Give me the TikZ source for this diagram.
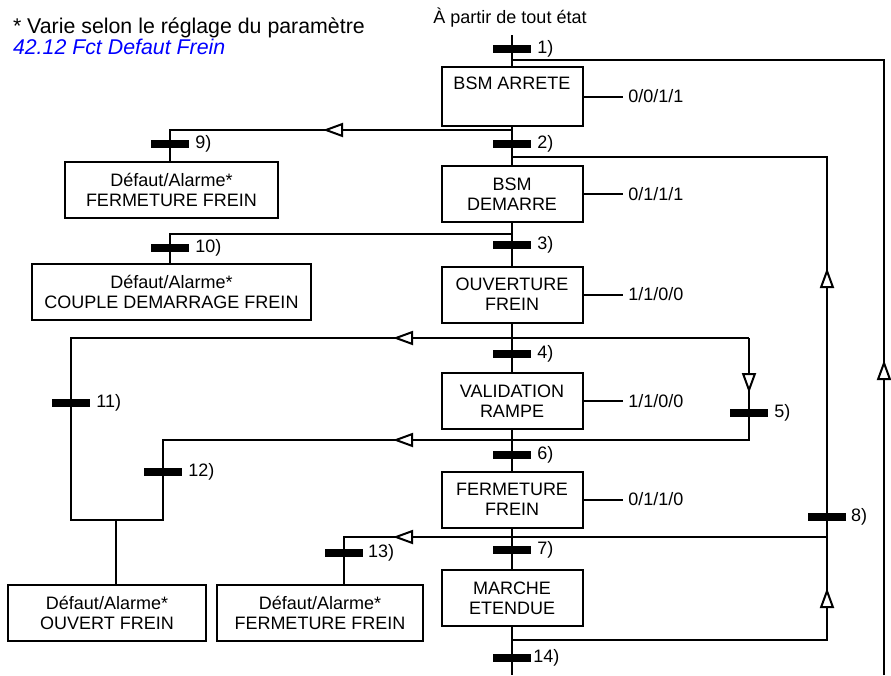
\documentclass[tikz,border=0pt]{standalone}
\usepackage{fontspec}
\setmainfont{Liberation Sans}
\usetikzlibrary{arrows.meta}

\begin{document}
\begin{tikzpicture}[
    x=0.75pt, y=-0.75pt,
    line width=1.5pt,
    every node/.style={
        font=\fontsize{13.5}{15}\selectfont,
        align=center
    },
    etat/.style={
        draw,
        minimum width=105.75pt,
        minimum height=42pt,
        inner sep=0pt
    },
    defaut/.style={draw, minimum height=42pt, inner sep=0pt},
    barre/.style={
        fill=black,
        minimum width=28.5pt,
        minimum height=6pt,
        inner sep=0pt,
        label distance=3pt
    },
    sortie/.style={anchor=west},
    fleche/.style={-{Triangle[fill=white, length=15pt, width=10.5pt]}}
]
\useasboundingbox (0,0) rectangle (891,675);

\node[anchor=base west, inner sep=0pt, font=\fontsize{16}{19}\selectfont] (note) at (12,33)
    {* Varie selon le réglage du paramètre};
\node[anchor=base west, inner sep=0pt, font=\fontsize{16}{19}\selectfont\itshape, text=blue] (param) at (12,54)
    {42.12 Fct Defaut Frein};
\node[anchor=base, inner sep=0pt] (tout) at (510,23) {À partir de tout état};

\node[etat, minimum height=44.25pt] (arrete) at (512,96.5) {BSM ARRETE\\\strut};
\node[etat] (demarre) at (512,194) {BSM\\DEMARRE};
\node[etat] (ouverture) at (512,294.5) {OUVERTURE\\FREIN};
\node[etat] (validation) at (512,401) {VALIDATION\\RAMPE};
\node[etat] (fermeture) at (512,499.5) {FERMETURE\\FREIN};
\node[etat] (marche) at (512,598) {MARCHE\\ETENDUE};

\node[sortie] (s1) at (623,96.5) {0/0/1/1};
\node[sortie] (s2) at (623,194) {0/1/1/1};
\node[sortie] (s3) at (623,294.5) {1/1/0/0};
\node[sortie] (s4) at (623,401) {1/1/0/0};
\node[sortie] (s6) at (623,499.5) {0/1/1/0};

\node[defaut, minimum width=159.75pt] (d9) at (171.5,190) {Défaut/Alarme*\\FERMETURE FREIN};
\node[defaut, minimum width=209.25pt] (d10) at (171.5,291.5) {Défaut/Alarme*\\COUPLE DEMARRAGE FREIN};
\node[defaut, minimum width=148.5pt] (d11) at (107,613) {Défaut/Alarme*\\OUVERT FREIN};
\node[defaut, minimum width=154.5pt] (d13) at (320,613) {Défaut/Alarme*\\FERMETURE FREIN};

\coordinate (depart) at (512,35);
\coordinate (fin) at (512,675);
\coordinate (j1) at (512,60);
\coordinate (c1) at (884,60);
\coordinate (f1) at (884,675);
\coordinate (a1) at (884,360);
\coordinate (j9) at (512,130);
\coordinate (c9) at (170,130);
\coordinate (a9) at (323,130);
\coordinate (j2) at (512,157);
\coordinate (c2) at (827,157);
\coordinate (a2) at (827,268);
\coordinate (j10) at (512,234);
\coordinate (c10) at (170,234);
\coordinate (j4) at (512,338);
\coordinate (c4) at (71,338);
\coordinate (c5) at (749,338);
\coordinate (a4) at (393,338);
\coordinate (a5) at (749,393);
\coordinate (j5) at (749,440);
\coordinate (c12) at (163,440);
\coordinate (a12) at (393,440);
\coordinate (c11) at (71,520);
\coordinate (k12) at (163,520);
\coordinate (j11) at (116,520);
\coordinate (j8) at (827,537);
\coordinate (c13) at (344,537);
\coordinate (a13) at (393,537);
\coordinate (j14) at (512,640);
\coordinate (c14) at (827,640);
\coordinate (a14) at (827,588);

\draw (depart) -- (arrete.north);
\draw (arrete.south) -- (demarre.north);
\draw (demarre.south) -- (ouverture.north);
\draw (ouverture.south) -- (validation.north);
\draw (validation.south) -- (fermeture.north);
\draw (fermeture.south) -- (marche.north);
\draw (marche.south) -- (fin);

\draw (arrete.east) -- (s1.west);
\draw (demarre.east) -- (s2.west);
\draw (ouverture.east) -- (s3.west);
\draw (validation.east) -- (s4.west);
\draw (fermeture.east) -- (s6.west);

\draw (j1) -- (c1) -- (f1);
\draw[fleche] (f1) -- (a1);
\draw (j9) -- (c9) -- (d9.north -| c9);
\draw[fleche] (j9) -- (a9);
\draw (j2) -- (c2) -- (c14) -- (j14);
\draw[fleche] (j8) -- (a2);
\draw[fleche] (c14) -- (a14);
\draw (j10) -- (c10) -- (d10.north -| c10);
\draw (c5) -- (c4) -- (c11) -- (k12) -- (c12) -- (j5) -- (c5);
\draw[fleche] (j4) -- (a4);
\draw[fleche] (j5) -- (a12);
\draw[fleche] (c5) -- (a5);
\draw (j11) -- (d11.north -| j11);
\draw (j8) -- (c13) -- (d13.north -| c13);
\draw[fleche] (j8) -- (a13);

\node[barre, label={right:1)}] (t1) at (512,49) {};
\node[barre, label={right:2)}] (t2) at (512,144) {};
\node[barre, label={right:3)}] (t3) at (512,245) {};
\node[barre, label={right:4)}] (t4) at (512,354) {};
\node[barre, label={right:5)}] (t5) at (749,413) {};
\node[barre, label={right:6)}] (t6) at (512,455) {};
\node[barre, label={right:7)}] (t7) at (512,550) {};
\node[barre, label={[label distance=-1pt]right:8)}] (t8) at (827,517) {};
\node[barre, label={right:9)}] (t9) at (170,144) {};
\node[barre, label={right:10)}] (t10) at (170,248) {};
\node[barre, label={right:11)}] (t11) at (71,403) {};
\node[barre, label={right:12)}] (t12) at (163,472) {};
\node[barre, label={[label distance=-1pt]right:13)}] (t13) at (344,553) {};
\node[barre, label={[label distance=-3pt]right:14)}] (t14) at (512,658) {};
\end{tikzpicture}
\end{document}
